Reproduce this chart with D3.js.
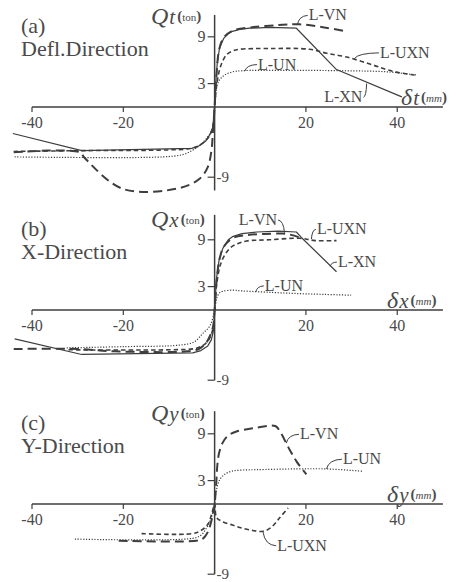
<!DOCTYPE html>
<html>
<head>
<meta charset="utf-8">
<script src="https://cdn.jsdelivr.net/npm/d3@7"></script>
<style>
  html, body { margin: 0; padding: 0; background: #fff; }
  svg { display: block; }
  text { font-family: "Liberation Serif", "Times New Roman", serif; fill: #4a4a4a; }
</style>
</head>
<body>
<svg id="chart" width="458" height="582"></svg>
<script>
// load (ton) vs. displacement (mm)
var xTicks = [-40, -20, 20, 40];
var yTicksLeft = [9, 3];
var yTickBottom = -9;
var panelTags = ["(a)", "(b)", "(c)"];
var panelTitles = ["Defl.Direction", "X-Direction", "Y-Direction"];
var axisLetters = ["t", "x", "y"];
var yAxisExtent = [[-10.7, 11.8], [-9, 12.2], [-9, 11.9]];

var aXN = [[-44.2, -3.4], [-29.1, -5.6], [-5.0, -5.3], [-3.5, -5.0], [-2, -4.4], [-1, -3.5], [-0.4, -2.6], [0, 0],
  [0.3, 3.5], [0.6, 5.8], [1.1, 7.6], [2, 8.8], [3, 9.4], [3.9, 9.7], [5.5, 9.95], [7.7, 10.1], [12, 10.2], [17.9, 10.1], [26.7, 4.8], [41, 1.3]];
var aVN = [[-44, -5.8], [-29.5, -5.8], [-28.5, -6.5], [-20.1, -10.5], [-7.7, -10.4], [-3.3, -9.2], [-1.5, -7.7],
  [-0.7, -5.6], [-0.4, -3.4], [0, 0], [0.4, 4], [1, 7.4], [2, 8.9], [4, 9.8], [8, 10.2], [14, 10.5], [18.6, 10.6], [24, 10.2], [28.9, 9.7]];
var aUXN = [[-44, -5.7], [-30, -5.6], [-10, -5.5], [-5, -5.3], [-3, -4.8], [-1.5, -4], [-0.5, -2.8], [0, 0],
  [0.5, 3], [1.3, 5.2], [2.6, 6.7], [4, 7.2], [5.5, 7.4], [12, 7.5], [20.8, 7.4], [24.5, 6.9], [28.9, 6.4],
  [34.6, 5.4], [37.6, 4.8], [40.5, 4.4], [43.8, 4.1]];
var aUN = [[-43.8, -6.4], [-11.4, -6.4], [-7, -6.1], [-5, -5.6], [-3, -4.8], [-1.5, -3.8], [-0.5, -2.8], [0, 0],
  [0.4, 2.5], [1.1, 3.5], [2.2, 4.1], [3.9, 4.5], [6, 4.65], [15, 4.7], [28, 4.65], [38, 4.5], [44.2, 4.1]];

var bXN = [[-43.8, -3.7], [-29.1, -5.7], [-4.8, -5.5], [-3, -5.2], [-1.5, -4.6], [-0.7, -3.8], [-0.2, -2.5], [0, 0],
  [0.4, 4], [1, 6.5], [1.8, 7.9], [3, 9], [3.9, 9.4], [6, 9.8], [9.2, 10], [14, 10.1], [17.9, 10], [19, 9.3], [26.7, 4.9]];
var bVN = [[-44, -5.0], [-30, -5.0], [-22, -5.3], [-6, -5.3], [-3.5, -5], [-2, -4.3], [-1, -3.3], [-0.3, -2], [0, 0],
  [0.4, 3.5], [1, 6.3], [2, 8.1], [3.9, 9.2], [7, 9.6], [11, 9.75], [14.9, 9.8], [17, 9.6], [18.6, 9.3]];
var bUXN = [[-32, -5.1], [-10, -5.1], [-4, -4.9], [-2, -4.3], [-1, -3.5], [-0.3, -2.2], [0, 0],
  [0.5, 3.5], [1.5, 6.2], [3.3, 7.9], [5, 8.5], [7, 8.85], [12, 9.0], [18.6, 9.2], [22, 8.9], [26.7, 8.9]];
var bUN = [[-32.4, -4.85], [-20, -4.7], [-7.7, -4.5], [-4.5, -4.1], [-2.6, -3.0], [-1, -2], [0, 0],
  [0.5, 1.6], [1.1, 2.2], [1.8, 2.4], [3.9, 2.55], [6, 2.45], [12.7, 2.25], [18.6, 2.1], [24, 2.0], [29.9, 1.9]];

var cVN = [[-21, -4.7], [-4, -4.7], [-2.5, -4.4], [-1.5, -3.6], [-0.4, -1.4], [0, 0],
  [0.4, 3.1], [0.6, 5.0], [1, 6.6], [1.8, 7.9], [3, 8.8], [4.8, 9.3], [8.4, 9.7], [13.3, 10.0], [14.2, 9.4],
  [16.4, 7.0], [18, 5.4], [20.1, 3.8]];
var cUN = [[-30.6, -4.5], [-4.8, -4.4], [-3, -4.0], [-1.8, -3.1], [-0.6, -1.5], [0, 0],
  [0.3, 1.5], [1.1, 3.1], [2.2, 3.8], [3.7, 4.2], [6, 4.35], [9.2, 4.4], [18, 4.5], [24.5, 4.5], [32.4, 4.2]];
var cUXN = [[-16, -3.8], [-5, -3.8], [-3, -3.4], [-1.5, -2.6], [-0.6, -1.2], [0, 0],
  [0.4, -1.7], [1.5, -2.2], [3.9, -2.7], [6, -3.1], [8.4, -3.4], [10.6, -3.5], [12.4, -3.0], [14.2, -1.8], [16.1, -0.5]];

// series styles
var styles = {
  "L-XN": { dash: null, width: 1.2, curve: d3.curveLinear },
  "L-VN": { dash: "9,5", width: 2, curve: d3.curveCatmullRom.alpha(0.5) },
  "L-UXN": { dash: "4.5,3", width: 1.6, curve: d3.curveCatmullRom.alpha(0.5) },
  "L-UN": { dash: "1.2,1.6", width: 1.2, curve: d3.curveCatmullRom.alpha(0.5) }
};

var panelSeries = [
  [["L-XN", aXN], ["L-VN", aVN], ["L-UXN", aUXN], ["L-UN", aUN]],
  [["L-XN", bXN], ["L-VN", bVN], ["L-UXN", bUXN], ["L-UN", bUN]],
  [["L-VN", cVN], ["L-UN", cUN], ["L-UXN", cUXN]]
];

// label: name, text start [mm, ton], leader end [mm, ton], side of text the leader leaves from
var panelLabels = [
  [["L-VN", [20.6, 11.1], [18.1, 10.5], "left"],
   ["L-UXN", [36.2, 6.3], [30.6, 6.2], "left"],
   ["L-UN", [9.5, 4.8], [6.6, 4.6], "left"],
   ["L-XN", [24.0, 0.6], [33.3, 3.0], "right"]],
  [["L-VN", [5.3, 10.9], [15.3, 9.9], "right"],
   ["L-UXN", [22.4, 9.7], [21.2, 9.1], "left"],
   ["L-XN", [27.0, 5.5], [25.3, 5.6], "left"],
   ["L-UN", [11.0, 2.45], [9.0, 2.3], "left"]],
  [["L-VN", [18.7, 8.3], [15.7, 7.8], "left"],
   ["L-UN", [28.1, 5.1], [24.5, 4.5], "left"],
   ["L-UXN", [13.7, -6.0], [10.6, -3.6], "left"]]
];

var svg = d3.select("#chart");
var ink = "#3e3e3e";
var originY = [107, 310, 504];

var x = d3.scaleLinear().domain([-40, 50]).range([32, 442.9]);

panelSeries.forEach(function (seriesList, p) {
  var y0 = originY[p];
  var y = d3.scaleLinear().domain([0, 9]).range([y0, y0 - 70.2]);
  var g = svg.append("g");

  // x axis
  g.append("line").attr("x1", x(-40)).attr("x2", x(50)).attr("y1", y(0)).attr("y2", y(0))
    .attr("stroke", ink).attr("stroke-width", 1.5);
  xTicks.forEach(function (t) {
    g.append("line").attr("x1", x(t)).attr("x2", x(t)).attr("y1", y(0)).attr("y2", y(0) + 5)
      .attr("stroke", ink).attr("stroke-width", 1.2);
    g.append("text").attr("x", x(t)).attr("y", y(0) + 21).attr("text-anchor", "middle")
      .attr("font-size", 16).text(t);
  });

  // y axis
  var ext = yAxisExtent[p];
  g.append("line").attr("x1", x(0)).attr("x2", x(0)).attr("y1", y(ext[1])).attr("y2", y(ext[0]))
    .attr("stroke", ink).attr("stroke-width", 1.5);
  yTicksLeft.concat([yTickBottom]).forEach(function (t) {
    g.append("line").attr("x1", x(0) - 7).attr("x2", x(0)).attr("y1", y(t)).attr("y2", y(t))
      .attr("stroke", ink).attr("stroke-width", 1.2);
  });
  yTicksLeft.forEach(function (t) {
    g.append("text").attr("x", x(0) - 9).attr("y", y(t) + 5).attr("text-anchor", "end")
      .attr("font-size", 16).text(t);
  });
  g.append("text").attr("x", x(0) + 2).attr("y", y(yTickBottom) + 5)
    .attr("font-size", 15).text(yTickBottom);

  // axis titles
  var qt = g.append("text").attr("x", 151).attr("y", y0 - 83);
  qt.append("tspan").attr("font-size", 24).attr("font-style", "italic").text("Q");
  qt.append("tspan").attr("font-size", 21).attr("font-style", "italic").attr("dx", 1).text(axisLetters[p]);
  qt.append("tspan").attr("font-size", 15).attr("font-weight", "bold").attr("dx", 2).attr("dy", -3).text("(");
  qt.append("tspan").attr("font-size", 11).text("ton");
  qt.append("tspan").attr("font-size", 15).attr("font-weight", "bold").text(")");

  var dt = g.append("text").attr("x", p === 0 ? 401 : 387).attr("y", y0 - 2);
  dt.append("tspan").attr("font-size", 24).attr("font-style", "italic").text("δ");
  dt.append("tspan").attr("font-size", 21).attr("font-style", "italic").attr("dx", 1).text(axisLetters[p]);
  dt.append("tspan").attr("font-size", 15).attr("font-weight", "bold").attr("dx", 2).attr("dy", -3).text("(");
  dt.append("tspan").attr("font-size", 11).attr("font-style", "italic").text("mm");
  dt.append("tspan").attr("font-size", 15).attr("font-weight", "bold").text(")");

  // panel tag and title
  g.append("text").attr("x", 21).attr("y", y0 - 74).attr("font-size", 22).text(panelTags[p]);
  g.append("text").attr("x", 21).attr("y", y0 - 51).attr("font-size", 22).text(panelTitles[p]);

  // curves
  seriesList.forEach(function (s) {
    var st = styles[s[0]];
    var line = d3.line()
      .x(function (d) { return x(d[0]); })
      .y(function (d) { return y(d[1]); })
      .curve(st.curve);
    g.append("path").datum(s[1]).attr("d", line)
      .attr("fill", "none").attr("stroke", ink)
      .attr("stroke-width", st.width)
      .attr("stroke-dasharray", st.dash)
      .attr("stroke-linejoin", "round");
  });

  // labels with leader curves
  panelLabels[p].forEach(function (lb) {
    var t = g.append("text").attr("x", x(lb[1][0])).attr("y", y(lb[1][1]))
      .attr("font-size", 16).text(lb[0]);
    var w = t.node().getComputedTextLength();
    var sx = lb[3] === "left" ? x(lb[1][0]) - 1 : x(lb[1][0]) + w + 1;
    var sy = y(lb[1][1]) - 5;
    var ex = x(lb[2][0]), ey = y(lb[2][1]);
    var path = d3.path();
    path.moveTo(sx, sy);
    path.quadraticCurveTo(ex + (sx - ex) * 0.15, sy + (ey - sy) * 0.05, ex, ey);
    g.append("path").attr("d", path.toString()).attr("fill", "none")
      .attr("stroke", ink).attr("stroke-width", 1);
  });
});
</script>
</body>
</html>
